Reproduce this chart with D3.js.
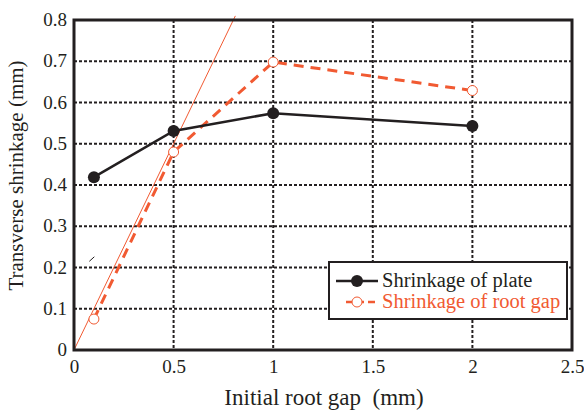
<!DOCTYPE html>
<html><head><meta charset="utf-8">
<script src="https://cdn.jsdelivr.net/npm/d3@7"></script>
</head>
<body style="margin:0;background:#fff">
<svg id="chart" width="584" height="412" style="display:block" font-family="Liberation Serif"></svg>
<script>
const gapX = [0.1, 0.5, 1, 2];
const plateShrinkage = [0.419, 0.531, 0.574, 0.543];
const rootGapShrinkage = [0.075, 0.480, 0.698, 0.629];
const refLineX = [0, 0.81];
const refLineY = [0, 0.81];
const strayX = [0.077, 0.102];
const strayY = [0.215, 0.226];
const xTicks = [0, 0.5, 1, 1.5, 2, 2.5];
const yTicks = [0, 0.1, 0.2, 0.3, 0.4, 0.5, 0.6, 0.7, 0.8];
const xTickLabels = ["0", "0.5", "1", "1.5", "2", "2.5"];
const yTickLabels = ["0", "0.1", "0.2", "0.3", "0.4", "0.5", "0.6", "0.7", "0.8"];
const seriesNames = ["Shrinkage of plate", "Shrinkage of root gap"];
const xTitle = "Initial root gap\u00a0\u00a0(mm)";
const yTitle = "Transverse shrinkage (mm)";

const FONT = "Liberation Serif";
const black = "#231f20", red = "#f15a32";
const svg = d3.select("#chart");
const L = 74, R = 572, T = 20, B = 350;
const x = d3.scaleLinear().domain([0, 2.5]).range([L, R]);
const y = d3.scaleLinear().domain([0, 0.8]).range([B, T]);

svg.append("rect").attr("width", 584).attr("height", 412).attr("fill", "#fff");

// grid
const grid = svg.append("g");
grid.selectAll(".gx").data(xTicks.slice(1, -1)).join("line")
  .attr("x1", d => x(d)).attr("x2", d => x(d)).attr("y1", T).attr("y2", B)
  .attr("stroke", black).attr("stroke-width", 2).attr("stroke-dasharray", "3,2");
grid.selectAll(".gy").data(yTicks.slice(1, -1)).join("line")
  .attr("y1", d => y(d)).attr("y2", d => y(d)).attr("x1", L).attr("x2", R)
  .attr("stroke", black).attr("stroke-width", 2).attr("stroke-dasharray", "3,2");

// axes (labels only)
const xAxis = d3.axisBottom(x).tickValues(xTicks).tickFormat((d, i) => xTickLabels[i]).tickSize(0).tickPadding(10);
const gx = svg.append("g").attr("transform", `translate(0,${B})`).call(xAxis);
gx.select(".domain").remove();
gx.attr("font-family", FONT).attr("font-size", 19);
gx.selectAll("text").attr("font-family", FONT).attr("font-size", 19).attr("fill", black);
const yAxis = d3.axisLeft(y).tickValues(yTicks).tickFormat((d, i) => yTickLabels[i]).tickSize(0).tickPadding(7);
const gy = svg.append("g").attr("transform", `translate(${L},0)`).call(yAxis);
gy.select(".domain").remove();
gy.attr("font-family", FONT).attr("font-size", 19);
gy.selectAll("text").attr("font-family", FONT).attr("font-size", 19).attr("fill", black).attr("dy", "0.3em");

// reference thin line
svg.append("line")
  .attr("x1", x(refLineX[0])).attr("y1", y(refLineY[0]))
  .attr("x2", x(refLineX[1])).attr("y2", y(refLineY[1]))
  .attr("stroke", red).attr("stroke-width", 1);

// stray tick mark
svg.append("line")
  .attr("x1", x(strayX[0])).attr("y1", y(strayY[0]))
  .attr("x2", x(strayX[1])).attr("y2", y(strayY[1]))
  .attr("stroke", black).attr("stroke-width", 1);

// frame
svg.append("rect").attr("x", L).attr("y", T).attr("width", R - L).attr("height", B - T)
  .attr("fill", "none").attr("stroke", black).attr("stroke-width", 3);

const line = d3.line().x(d => x(d[0])).y(d => y(d[1]));
const rootPts = gapX.map((g, i) => [g, rootGapShrinkage[i]]);
const platePts = gapX.map((g, i) => [g, plateShrinkage[i]]);

svg.append("path").datum(rootPts).attr("d", line)
  .attr("fill", "none").attr("stroke", red).attr("stroke-width", 3)
  .attr("stroke-dasharray", "10,7");
svg.append("path").datum(platePts).attr("d", line)
  .attr("fill", "none").attr("stroke", black).attr("stroke-width", 2.5);

svg.selectAll(".pm").data(platePts).join("circle")
  .attr("cx", d => x(d[0])).attr("cy", d => y(d[1])).attr("r", 6)
  .attr("fill", black);
svg.selectAll(".rm").data(rootPts).join("circle")
  .attr("cx", d => x(d[0])).attr("cy", d => y(d[1])).attr("r", 5)
  .attr("fill", "#fff").attr("stroke", red).attr("stroke-width", 1);

// legend
const lg = svg.append("g");
lg.append("rect").attr("x", 329).attr("y", 262).attr("width", 238).attr("height", 57)
  .attr("fill", "#fff").attr("stroke", black).attr("stroke-width", 2);
lg.append("line").attr("x1", 336).attr("x2", 378).attr("y1", 281).attr("y2", 281)
  .attr("stroke", black).attr("stroke-width", 2.5);
lg.append("circle").attr("cx", 357).attr("cy", 281).attr("r", 6).attr("fill", black);
lg.append("line").attr("x1", 346).attr("x2", 377).attr("y1", 302).attr("y2", 302)
  .attr("stroke", red).attr("stroke-width", 2.5).attr("stroke-dasharray", "7,4");
lg.append("circle").attr("cx", 357).attr("cy", 302).attr("r", 5)
  .attr("fill", "#fff").attr("stroke", red).attr("stroke-width", 1);
lg.append("text").attr("x", 382).attr("y", 287)
  .attr("font-family", FONT).attr("font-size", 20.5).attr("fill", black).text(seriesNames[0]);
lg.append("text").attr("x", 382).attr("y", 308)
  .attr("font-family", FONT).attr("font-size", 20.5).attr("fill", red).text(seriesNames[1]);

// titles
svg.append("text").attr("x", 324).attr("y", 405).attr("text-anchor", "middle")
  .attr("font-family", FONT).attr("font-size", 23).attr("fill", black).text(xTitle);
svg.append("text").attr("transform", "translate(23,175.5) rotate(-90)").attr("text-anchor", "middle")
  .attr("font-family", FONT).attr("font-size", 21).attr("fill", black).text(yTitle);
</script>
</body></html>
